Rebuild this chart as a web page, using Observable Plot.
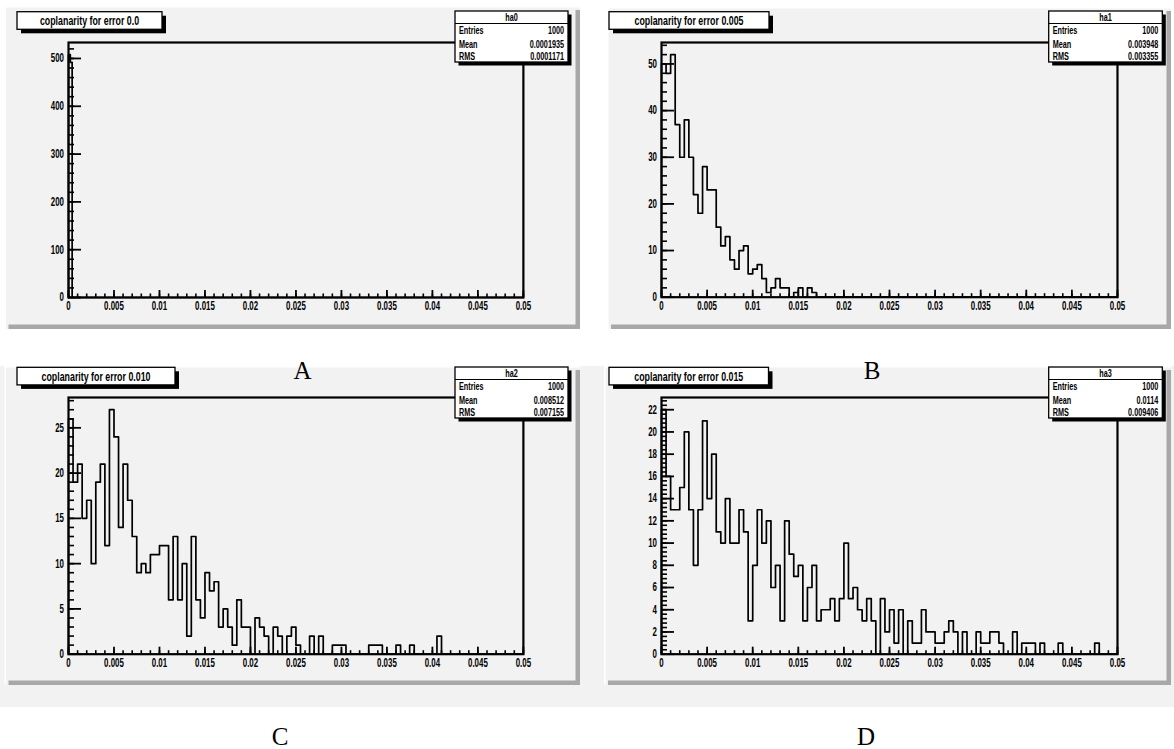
<!DOCTYPE html>
<html><head><meta charset="utf-8">
<script src="https://cdn.jsdelivr.net/npm/d3@7"></script>
<script src="https://cdn.jsdelivr.net/npm/@observablehq/plot@0.6"></script>
<style>
body{margin:0;background:#fff;}
#root{position:relative;width:1174px;height:749px;overflow:hidden;background:#fff;}
#root > *{position:absolute;}
</style></head><body><div id="root"></div>
<script>
// ---------------- data ----------------
const titles = ["coplanarity for error 0.0","coplanarity for error 0.005","coplanarity for error 0.010","coplanarity for error 0.015"];
const statNames = ["ha0","ha1","ha2","ha3"];
const statEntries = ["1000","1000","1000","1000"];
const statMean = ["0.0001935","0.003948","0.008512","0.0114"];
const statRMS = ["0.0001171","0.003355","0.007155","0.009406"];
const panelLetters = ["A","B","C","D"];
const binWidths = [0.0002, 0.0005, 0.0005, 0.0005];
const countsA = [508, 492];
const countsB = [50,48,52,37,30,38,30,22,18,28, 23,23,15,11,13,8,6,10,11,5, 6,7,4,1,2,4,2,2,0,1, 2,0,2,1,0];
const countsC = [26,19,21,15,17,10,19,21,12,27, 24,14,21,17,13,9,10,9,11,11, 12,12,6,13,6,10,2,13,6,4,
  9,7,8,3,5,3,1,6,3,3, 0,4,3,2,0,3,2,0,2,3, 1,0,0,2,0,2,0,0,1,1, 1,0,0,0,0,0,1,1,1,0, 0,0,1,0,0,1,0,0,0,0, 0,2];
const countsD = [22,16,13,13,15,20,13,8,13,21, 14,18,11,10,14,10,10,13,11,3, 8,13,10,12,6,8,3,12,9,7,
  8,3,6,8,3,4,4,5,3,5, 10,5,6,4,3,5,3,0,5,2, 4,1,4,0,3,1,1,4,2,2, 1,1,2,3,2,0,2,0,0,2,
  1,1,2,2,1,0,0,2,0,1, 1,1,0,1,0,0,0,1,0,0, 0,0,0,0,0,1];
const allCounts = [countsA, countsB, countsC, countsD];
const xDomain = [0, 0.05];
const xMajorTicks = [0,0.005,0.01,0.015,0.02,0.025,0.03,0.035,0.04,0.045,0.05];
const xMinorStep = 0.001;
const yMajorTicks = [[0,100,200,300,400,500],[0,10,20,30,40,50],[0,5,10,15,20,25],[0,2,4,6,8,10,12,14,16,18,20,22]];
const yMinorSteps = [20, 2, 1, 0.4];

// ---------------- layout (style) ----------------
const layout = [
  {pad:[4.5,6,580,329], frame:[67.7,41.7,522.6,296.7], title:[17,11.7,145,17.6], stats:[455,11,113,51], letter:[302.5,370]},
  {pad:[607,7,1171,329], frame:[660.5,42.3,1116.5,297], title:[609,11.7,160,17.6], stats:[1048.7,11,113.6,51], letter:[872,370]},
  {pad:[4.5,366,580,685], frame:[67.7,397.3,522.6,654], title:[17,367.3,158,17.6], stats:[455,367,113,51], letter:[280,736]},
  {pad:[604,366,1171,685], frame:[660.5,397.3,1116.5,654], title:[609,367.3,159.5,17.6], stats:[1048.7,367,113.6,51], letter:[866,736]}
];
const SX = 0.66; // horizontal condensation of ROOT text
const FONT = "'Liberation Sans', Arial, Helvetica, sans-serif";
const PADFILL = "#f2f2f2";

const root = document.getElementById("root");

// background layer
const bg = d3.select(root).append("svg").attr("width",1174).attr("height",749).style("left","0px").style("top","0px");
bg.append("rect").attr("x",0).attr("y",366).attr("width",1174).attr("height",341).attr("fill",PADFILL);
layout.forEach(L => {
  const [x0,y0,x1,y1] = L.pad;
  bg.append("rect").attr("x",x0).attr("y",y0).attr("width",x1-x0).attr("height",y1-y0).attr("fill",PADFILL);
  bg.append("rect").attr("x",x0).attr("y",y0).attr("width",x1-x0).attr("height",1.5).attr("fill","#fff");
  bg.append("rect").attr("x",x0).attr("y",y0).attr("width",1.5).attr("height",y1-y0).attr("fill","#fff");
  bg.append("rect").attr("x",x0+4).attr("y",y1-4.5).attr("width",x1-x0-4).attr("height",4.5).attr("fill","#a8a8a8");
  bg.append("rect").attr("x",x1-4.5).attr("y",y0+4).attr("width",4.5).attr("height",y1-y0-4).attr("fill","#a8a8a8");
});

function condense(svgNode, sx) {
  svgNode.querySelectorAll("text").forEach(t => {
    const x = +(t.getAttribute("x") || 0);
    const tr = t.getAttribute("transform") || "";
    t.setAttribute("transform", `${tr} translate(${x},0) scale(${sx},1) translate(${-x},0)`);
  });
}

// plots
const ML = 50, MR = 12, MT = 12, MB = 28;
allCounts.forEach((counts, i) => {
  const L = layout[i];
  const [fx0, fy0, fx1, fy1] = L.frame;
  const fw = fx1 - fx0, fh = fy1 - fy0;
  const w = binWidths[i];
  const ymax = 1.05 * d3.max(counts);
  const pts = [{x: 0, y: 0}, ...counts.map((c, k) => ({x: k * w, y: c})), {x: counts.length * w, y: 0}, {x: xDomain[1], y: 0}];
  const yMinor = d3.range(0, ymax, yMinorSteps[i]);
  const xMinor = d3.range(xDomain[0], xDomain[1] + 1e-9, xMinorStep);
  const svg = Plot.plot({
    width: fw + ML + MR, height: fh + MT + MB,
    marginLeft: ML, marginRight: MR, marginTop: MT, marginBottom: MB,
    x: {domain: xDomain},
    y: {domain: [0, ymax]},
    style: {background: "transparent", overflow: "visible", fontFamily: FONT, color: "#000"},
    marks: [
      Plot.tickY(yMinor, {y: d => d, insetRight: fw - 6, stroke: "#000", strokeWidth: 1.6}),
      Plot.tickY(yMajorTicks[i], {y: d => d, insetRight: fw - 13, stroke: "#000", strokeWidth: 1.8}),
      Plot.tickX(xMinor, {x: d => d, insetTop: fh - 3.5, stroke: "#000", strokeWidth: 1.6}),
      Plot.tickX(xMajorTicks, {x: d => d, insetTop: fh - 7, stroke: "#000", strokeWidth: 1.8}),
      Plot.line(pts, {x: "x", y: "y", curve: "step-after", stroke: "#000", strokeWidth: 1.7}),
      Plot.frame({stroke: "#000", strokeWidth: 2.2}),
      Plot.axisY({ticks: yMajorTicks[i], tickSize: 0, tickPadding: 4.5, fontSize: 12, fontWeight: "bold", label: null, tickFormat: d => String(d)}),
      Plot.axisX({ticks: xMajorTicks, tickSize: 0, tickPadding: 4, fontSize: 12, fontWeight: "bold", label: null, tickFormat: d => String(d)})
    ]
  });
  svg.style.position = "absolute";
  svg.style.left = (fx0 - ML) + "px";
  svg.style.top = (fy0 - MT) + "px";
  root.appendChild(svg);
  condense(svg, SX);
});

// overlay: title boxes, stats boxes, letters
const ov = d3.select(root).append("svg").attr("width",1174).attr("height",749).style("left","0px").style("top","0px");
layout.forEach((L, i) => {
  // title box
  const [tx, ty, tw, th] = L.title;
  ov.append("rect").attr("x",tx+4).attr("y",ty+4).attr("width",tw).attr("height",th).attr("fill","#000");
  ov.append("rect").attr("x",tx).attr("y",ty).attr("width",tw).attr("height",th).attr("fill","#fff").attr("stroke","#000").attr("stroke-width",1.3);
  ov.append("text").attr("transform",`translate(${tx+tw/2},${ty+th/2}) scale(0.68,1)`)
    .attr("text-anchor","middle").attr("dominant-baseline","central")
    .attr("font-family",FONT).attr("font-weight","bold").attr("font-size",13).text(titles[i]);
  // stats box
  const [sx, sy, sw, sh] = L.stats;
  ov.append("rect").attr("x",sx+3.5).attr("y",sy+3.5).attr("width",sw).attr("height",sh).attr("fill","#000");
  ov.append("rect").attr("x",sx).attr("y",sy).attr("width",sw).attr("height",sh).attr("fill","#fff").attr("stroke","#000").attr("stroke-width",1.3);
  ov.append("line").attr("x1",sx).attr("x2",sx+sw).attr("y1",sy+12.5).attr("y2",sy+12.5).attr("stroke","#000").attr("stroke-width",1.2);
  const st = (x, y, anchor, s) => ov.append("text").attr("transform",`translate(${x},${y}) scale(${SX},1)`)
    .attr("text-anchor",anchor).attr("dominant-baseline","central")
    .attr("font-family",FONT).attr("font-weight","bold").attr("font-size",11).text(s);
  st(sx + sw/2, sy + 6.5, "middle", statNames[i]);
  st(sx + 4, sy + 19.5, "start", "Entries");
  st(sx + sw - 4, sy + 19.5, "end", statEntries[i]);
  st(sx + 4, sy + 33, "start", "Mean");
  st(sx + sw - 4, sy + 33, "end", statMean[i]);
  st(sx + 4, sy + 45, "start", "RMS");
  st(sx + sw - 4, sy + 45, "end", statRMS[i]);
  // panel letter
  const [lx, ly] = L.letter;
  ov.append("text").attr("x",lx).attr("y",ly).attr("text-anchor","middle").attr("dominant-baseline","central")
    .attr("font-family","'Liberation Serif', 'Times New Roman', serif").attr("font-size",25).text(panelLetters[i]);
});
</script></body></html>
